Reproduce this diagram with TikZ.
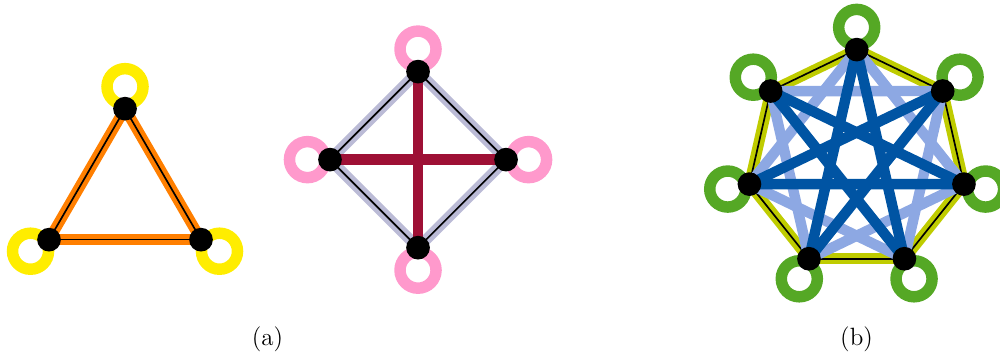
\documentclass[tikz,border=0pt]{standalone}
\usetikzlibrary{backgrounds}
\definecolor{ringyellow}{RGB}{255,237,0}
\definecolor{bandorange}{RGB}{255,127,0}
\definecolor{ringpink}{RGB}{255,153,204}
\definecolor{bandlilac}{RGB}{187,187,214}
\definecolor{diagred}{RGB}{158,16,53}
\definecolor{ringgreen}{RGB}{85,168,37}
\definecolor{bandlime}{RGB}{191,204,0}
\definecolor{chordlight}{RGB}{141,168,227}
\definecolor{chorddark}{RGB}{0,84,163}
\tikzset{
  vert/.style={circle,fill=black,inner sep=0pt,minimum size=0.4cm},
  ring/.style={draw=#1,line width=5.5pt,circle,inner sep=0pt,minimum size=0.608cm},
  rim/.style={draw=#1,double=black,double distance=0.8pt,line width=2.2pt},
  chord/.style={draw=#1,line width=5pt}
}
\begin{document}
\begin{tikzpicture}[line join=round]
  \useasboundingbox (0,0) rectangle (16.87,6.0);
  % triangle
  \node[vert] (t1) at (2.109,4.167) {};
  \node[vert] (t2) at (0.827,1.957) {};
  \node[vert] (t3) at (3.391,1.957) {};
  % diamond
  \node[vert] (d1) at (7.052,4.792) {};
  \node[vert] (d2) at (5.567,3.307) {};
  \node[vert] (d3) at (7.052,1.822) {};
  \node[vert] (d4) at (8.537,3.307) {};
  % heptagon
  \foreach \i [evaluate=\i as \a using 90+\i*360/7] in {0,...,6}
    \node[vert] (h\i) at ([shift={(14.452,3.307)}]\a:1.856) {};
  \begin{pgfonlayer}{background}
    \node[ring=ringyellow] (y1) at (2.109,4.538) {};
    \node[ring=ringyellow] (y2) at (0.515,1.762) {};
    \node[ring=ringyellow] (y3) at (3.703,1.762) {};
    \node[ring=ringpink] (p1) at (7.052,5.172) {};
    \node[ring=ringpink] (p2) at (5.187,3.307) {};
    \node[ring=ringpink] (p3) at (7.052,1.442) {};
    \node[ring=ringpink] (p4) at (8.917,3.307) {};
    \foreach \i [evaluate=\i as \a using 90+\i*360/7] in {0,...,6}
      \node[ring=ringgreen] (g\i) at ([shift={(14.452,3.307)}]\a:2.231) {};
    \draw[rim=bandorange] (t1.center) -- (t2.center);
    \draw[rim=bandorange] (t2.center) -- (t3.center);
    \draw[rim=bandorange] (t3.center) -- (t1.center);
    \draw[rim=bandlilac] (d1.center) -- (d2.center);
    \draw[rim=bandlilac] (d2.center) -- (d3.center);
    \draw[rim=bandlilac] (d3.center) -- (d4.center);
    \draw[rim=bandlilac] (d4.center) -- (d1.center);
    \draw[chord=diagred] (d1.center) -- (d3.center);
    \draw[chord=diagred] (d2.center) -- (d4.center);
    \foreach \i [evaluate=\i as \j using {int(mod(\i+1,7))}] in {0,...,6}
      \draw[rim=bandlime] (h\i.center) -- (h\j.center);
    \foreach \i [evaluate=\i as \j using {int(mod(\i+2,7))}] in {0,...,6}
      \draw[chord=chordlight] (h\i.center) -- (h\j.center);
    \foreach \i [evaluate=\i as \j using {int(mod(\i+3,7))}] in {0,...,6}
      \draw[chord=chorddark] (h\i.center) -- (h\j.center);
  \end{pgfonlayer}
  \node[font=\large] (lbla) at (4.513,0.27) {(a)};
  \node[font=\large] (lblb) at (14.45,0.27) {(b)};
\end{tikzpicture}
\end{document}
